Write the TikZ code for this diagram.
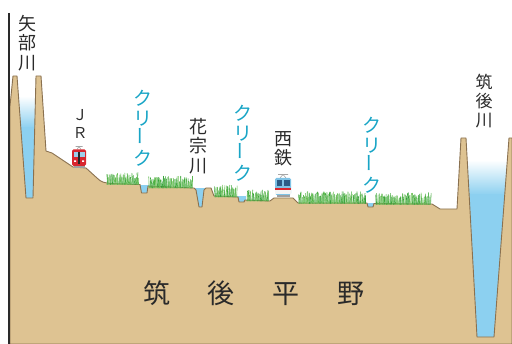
\documentclass[tikz,border=0pt]{standalone}
\usepackage{fontspec}
\usepackage{graphicx}
\newfontfamily\jpfont{Noto Sans CJK JP}
\definecolor{soil}{HTML}{DEC392}
\definecolor{soilline}{HTML}{8A7150}
\definecolor{water}{HTML}{8CD0F0}
\definecolor{creektext}{HTML}{19A5C6}
\definecolor{labeltext}{HTML}{2A2A2A}
\definecolor{grassdark}{HTML}{2F9E35}
\definecolor{grasslight}{HTML}{8FD46C}
\definecolor{jrred}{HTML}{D8262E}
\definecolor{winblue}{HTML}{9CCFEA}
\definecolor{nishiblue}{HTML}{7FC3E6}
\definecolor{nishiwin}{HTML}{2B5C86}

% a strip of grass blades standing on the ground line
\newcommand{\grassrun}[3]{%
  \pgfmathsetmacro{\gstart}{#1}%
  \pgfmathsetmacro{\gnext}{#1+0.7}%
  \foreach \gx in {\gstart,\gnext,...,#2}{%
    \pgfmathsetmacro{\gh}{6+6*rnd}%
    \pgfmathsetmacro{\gd}{1.8*rnd-0.9}%
    \pgfmathtruncatemacro{\gmix}{30+70*rnd}%
    \draw[blade, draw=grassdark!\gmix!grasslight] (\gx,#3) -- ++(\gd,-\gh);
  }}

\tikzset{
  ground/.style={fill=soil, draw=soilline, line width=0.9, line join=round},
  blade/.style={line width=0.6, line cap=round},
  vlabel/.style={text=labeltext, align=center, inner sep=0,
    font=\jpfont\fontsize{18}{19.5}\selectfont},
  creek/.style={text=creektext, align=center, inner sep=0,
    font=\jpfont\fontsize{19}{20}\selectfont},
}

\begin{document}
\begin{tikzpicture}[x=1pt, y=-1pt]
\useasboundingbox (0,0) rectangle (512,344);
\pgfmathsetseed{11}

% water in the two rivers and the small creeks
\shade[top color=white, bottom color=water] (16,96) rectangle (37,128);
\fill[water] (16,127.5) rectangle (37,200);
\shade[top color=white, bottom color=water] (463,160) rectangle (511,195);
\fill[water] (463,194.5) rectangle (511,340);
\fill[water] (139,185) rectangle (149,195);
\fill[water] (194,188) rectangle (206,209);
\fill[water] (237,196) rectangle (246,204);
\fill[water] (366,203) rectangle (375,209);

% cross-section of the plain
\path[ground] (10,106) -- (13,76) -- (17,76) -- (26,198) -- (33,198)
  -- (36,76) -- (41,76) -- (46,151) -- (52,153) -- (73,167) -- (86,168)
  -- (97,178) .. controls (101,182) and (104,183) .. (112,183.5)
  -- (140,184.5) -- (141.5,193) -- (147,193) -- (148,186)
  -- (194,188) -- (196,190) -- (199,207) -- (202,207) -- (204,190)
  -- (206,188) -- (211,188) -- (214,196) -- (238,197) -- (239,202)
  -- (244,202) -- (245,200) -- (270,201) -- (274,198) -- (293,198)
  -- (298,203) -- (367,203) -- (368,207) -- (373,207) -- (374,203.5)
  -- (432,204) -- (440,209) -- (457,209) -- (461,138) -- (466,138)
  -- (477,337) -- (494,337) -- (509,138) -- (512,138) -- (512,344)
  -- (10,344) -- cycle;

% left axis
\draw[labeltext, line width=1.4] (9,13) -- (9,344);

% grass
\grassrun{107}{139}{184.5}
\grassrun{149}{193}{188}
\grassrun{215}{237}{197}
\grassrun{247}{269}{201}
\grassrun{299}{366}{203.5}
\grassrun{376}{431}{204.5}

% JR train
\draw[gray!70, line width=0.6] (75.5,146.5) -- (82.5,146.5)
  (77,149.5) -- (79,146.5) -- (81,149.5);
\fill[gray!75] (73.5,165) rectangle (84.5,168.5);
\fill[jrred, rounded corners=1.5] (72,149.5) rectangle (86,166);
\fill[winblue] (73.5,152) rectangle (77.7,157.5);
\fill[winblue] (80.3,152) rectangle (84.5,157.5);
\fill[black!85] (78.2,152) rectangle (79.8,164);
\fill[white] (74,160.5) rectangle (76,162) (82,160.5) rectangle (84,162);

% Nishitetsu train
\draw[gray!70, line width=0.6] (278,174.5) -- (288,174.5)
  (280,178) -- (283,174.5) -- (286,178);
\fill[gray!75] (276.5,194) rectangle (289.5,197.5);
\fill[nishiblue, rounded corners=1.5] (275,178) rectangle (291,195);
\fill[nishiwin] (276.5,180.5) rectangle (282.2,186);
\fill[nishiwin] (283.8,180.5) rectangle (289.5,186);
\fill[white!92!gray] (275,190) rectangle (291,194.5);
\fill[jrred] (275,187.8) rectangle (291,190);

% labels
\node[vlabel] (yabe) at (28,43) {矢\\部\\川};
\node[vlabel, font=\jpfont\fontsize{15}{18}\selectfont] (jr) at (80,124) {Ｊ\\Ｒ};
\node[creek] (creekA) at (143,128) {ク\\リ\\\rotatebox{90}{ー}\\ク};
\node[vlabel] (hanamune) at (198,146) {花\\宗\\川};
\node[creek] (creekB) at (243,143) {ク\\リ\\\rotatebox{90}{ー}\\ク};
\node[vlabel] (nishitetsu) at (283,149) {西\\鉄};
\node[creek] (creekC) at (372,155) {ク\\リ\\\rotatebox{90}{ー}\\ク};
\node[vlabel, font=\jpfont\fontsize{17}{19}\selectfont] (chikugo) at (484,101) {筑\\後\\川};
\node[text=labeltext, inner sep=0, font=\jpfont\fontsize{27}{30}\selectfont]
  (plain) at (254,293) {筑\hspace{38pt}後\hspace{38pt}平\hspace{38pt}野};
\end{tikzpicture}
\end{document}
